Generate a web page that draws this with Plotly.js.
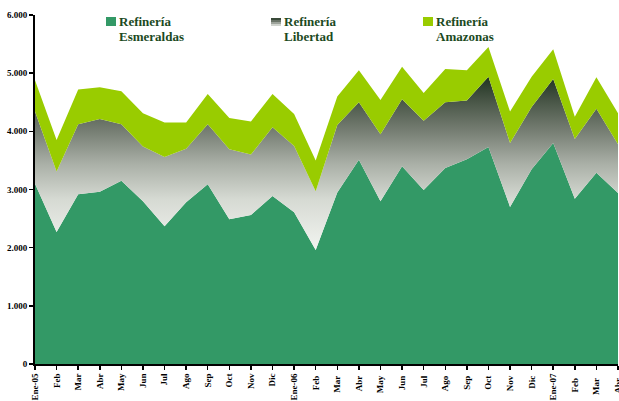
<!DOCTYPE html>
<html><head><meta charset="utf-8">
<script src="https://cdn.plot.ly/plotly-3.0.1.min.js"></script>
<style>html,body{margin:0;padding:0;background:#fff}#chart{width:619px;height:401px}</style>
</head><body><div id="chart"></div>
<script>
const months = ["Ene-05","Feb","Mar","Abr","May","Jun","Jul","Ago","Sep","Oct","Nov","Dic",
  "Ene-06","Feb ","Mar ","Abr ","May ","Jun ","Jul ","Ago ","Sep ","Oct ","Nov ","Dic ",
  "Ene-07","Feb  ","Mar  ","Abr  "];
const esmeraldas = [3100,2270,2920,2960,3150,2800,2370,2780,3090,2490,2560,2890,
  2610,1960,2950,3510,2800,3400,2990,3370,3520,3730,2700,3350,3800,2840,3290,2940];
const totalLibertad = [4340,3310,4120,4210,4120,3740,3560,3700,4120,3690,3600,4070,
  3750,2970,4110,4500,3950,4550,4180,4500,4530,4940,3800,4420,4900,3870,4390,3780];
const totalAmazonas = [4880,3850,4720,4760,4690,4310,4150,4150,4640,4230,4170,4640,
  4300,3500,4600,5050,4540,5110,4660,5070,5050,5450,4340,4940,5410,4250,4930,4310];
const libertad = totalLibertad.map((v,i)=>v-esmeraldas[i]);
const amazonas = totalAmazonas.map((v,i)=>v-totalLibertad[i]);
const names = ["Refinería<br>Esmeraldas","Refinería<br>Libertad","Refinería<br>Amazonas"];

const serif = "Liberation Serif, Times New Roman, serif";
const gradScale = [[0,"#f4f6f2"],[0.3,"#d6dad3"],[0.5,"#a9afa6"],[0.68,"#767e73"],[0.84,"#4a5748"],[1,"#1a2d1b"]];
const traces = [
  {x:months,y:esmeraldas,name:names[0],type:"scatter",mode:"lines",stackgroup:"a",
   line:{width:0},fillcolor:"#339966",showlegend:false},
  {x:months,y:libertad,name:names[1],type:"scatter",mode:"lines",stackgroup:"a",
   line:{width:0},fillcolor:"#8a9088",showlegend:false,
   fillgradient:{type:"vertical",start:1900,stop:5000,colorscale:gradScale}},
  {x:months,y:amazonas,name:names[2],type:"scatter",mode:"lines",stackgroup:"a",
   line:{width:0},fillcolor:"#99cc00",showlegend:false}
];

// legend drawn as annotations + swatches (paper coords from plot-area pixels)
const L = 35, W = 583, T = 15, H = 349;
const px = v => (v - L) / W;
const py = v => 1 - (v - T) / H;
const legendX = [106, 271, 423];
const legendColors = ["#339966", null, "#99cc00"];
const shapes = [];
const annotations = [];
legendX.forEach((x0, i) => {
  if (legendColors[i]) {
    shapes.push({type:"rect",xref:"paper",yref:"paper",x0:px(x0),x1:px(x0+10),y0:py(26),y1:py(17),
      line:{width:0},fillcolor:legendColors[i]});
  } else {
    const strip = ["#3a4a3a","#6a7468","#9da39b","#cfd3cd"];
    strip.forEach((c, k) => shapes.push({type:"rect",xref:"paper",yref:"paper",
      x0:px(x0),x1:px(x0+10),y0:py(18+2*(k+1)),y1:py(18+2*k),line:{width:0},fillcolor:c}));
  }
  names[i].split("<br>").forEach((line, j) => {
    annotations.push({xref:"paper",yref:"paper",x:px(x0+11),y:py(21.5+15*j),xanchor:"left",yanchor:"middle",
      align:"left",showarrow:false,text:line,
      font:{family:serif,size:13,color:"#1c4a1e",weight:"bold"}});
  });
});

const layout = {
  width:619,height:401,margin:{l:35,r:1,t:15,b:37},
  paper_bgcolor:"#fff",plot_bgcolor:"#fff",separators:",.",
  showlegend:false,shapes:shapes,annotations:annotations,
  xaxis:{type:"category",range:[0,27],showline:true,linewidth:2,linecolor:"#000",
    ticks:"outside",ticklen:4,tickwidth:1.5,tickcolor:"#000",showgrid:false,zeroline:false,
    tickangle:-90,tickfont:{family:serif,size:9,color:"#000",weight:"bold"}},
  yaxis:{range:[0,6000],dtick:1000,tickformat:",d",showline:true,linewidth:2,linecolor:"#000",
    ticks:"outside",ticklen:4,tickwidth:1.5,tickcolor:"#000",showgrid:false,zeroline:false,
    tickfont:{family:serif,size:9,color:"#000",weight:"bold"}}
};
Plotly.newPlot("chart",traces,layout,{displayModeBar:false,staticPlot:true});
</script></body></html>
